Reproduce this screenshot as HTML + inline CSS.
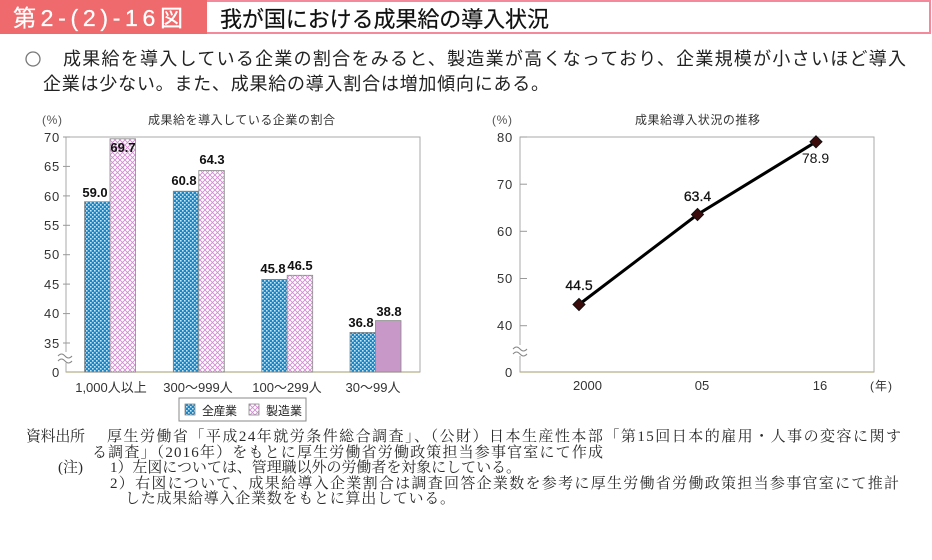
<!DOCTYPE html>
<html><head><meta charset="utf-8"><style>
html,body{margin:0;padding:0;background:#fff;}
svg{display:block;}
.s{font-family:"Liberation Sans","Noto Sans CJK JP",sans-serif;}
.m{font-family:"Liberation Serif","Noto Serif CJK SC",serif;}
</style></head><body>
<svg width="932" height="560" viewBox="0 0 932 560" xmlns="http://www.w3.org/2000/svg">
<defs>
<pattern id="pb" width="4" height="4" patternUnits="userSpaceOnUse"><rect width="4" height="4" fill="#1a86c8"/><rect x="0" y="0" width="1.6" height="1.6" fill="#c4e6f6"/><rect x="2" y="2" width="1.6" height="1.6" fill="#c4e6f6"/></pattern>
<pattern id="pp" width="5" height="5" patternUnits="userSpaceOnUse"><rect width="5" height="5" fill="#fff"/><path d="M0,0 L5,5 M5,0 L0,5" stroke="#d28cd2" stroke-width="0.9"/></pattern>
</defs>
<rect width="932" height="560" fill="#fff"/>
<!-- header -->
<rect x="1" y="1" width="929" height="32" fill="#fff" stroke="#f5899c" stroke-width="2"/>
<rect x="0" y="0" width="207" height="34" fill="#ef6a6c"/>
<text class="s" x="13" y="26" font-size="23" fill="#fff" stroke="#fff" stroke-width="0.3" textLength="170">第2-(2)-16図</text>
<text class="s" x="220" y="27" font-size="22" fill="#111" stroke="#111" stroke-width="0.2" textLength="329">我が国における成果給の導入状況</text>
<!-- summary -->
<circle cx="33" cy="59" r="7" fill="none" stroke="#777" stroke-width="1.3"/>
<text class="s" x="63" y="65" font-size="18" fill="#222" textLength="843">成果給を導入している企業の割合をみると、製造業が高くなっており、企業規模が小さいほど導入</text>
<text class="s" x="43" y="90" font-size="18" fill="#222" textLength="506">企業は少ない。また、成果給の導入割合は増加傾向にある。</text>

<!-- LEFT CHART -->
<text class="s" x="42" y="124" font-size="12" fill="#555" textLength="20">(%)</text>
<text class="s" x="148" y="124" font-size="12" fill="#333" textLength="187">成果給を導入している企業の割合</text>
<rect x="66" y="137" width="354" height="235" fill="none" stroke="#aaa" stroke-width="1"/>
<line x1="66" y1="372" x2="420" y2="372" stroke="#b8b08a" stroke-width="1.2"/>
<g stroke="#999" stroke-width="1">
<line x1="63" y1="137" x2="70" y2="137"/><line x1="63" y1="166.4" x2="70" y2="166.4"/><line x1="63" y1="195.9" x2="70" y2="195.9"/><line x1="63" y1="225.3" x2="70" y2="225.3"/><line x1="63" y1="254.7" x2="70" y2="254.7"/><line x1="63" y1="284.1" x2="70" y2="284.1"/><line x1="63" y1="313.6" x2="70" y2="313.6"/><line x1="63" y1="343" x2="70" y2="343"/>
</g>
<g class="s" font-size="13" fill="#333" text-anchor="end" letter-spacing="0.8">
<text x="60" y="142">70</text><text x="60" y="171">65</text><text x="60" y="201">60</text><text x="60" y="230">55</text><text x="60" y="259">50</text><text x="60" y="289">45</text><text x="60" y="318">40</text><text x="60" y="348">35</text><text x="60" y="377">0</text>
</g>
<!-- bars -->
<g stroke="#8a8a8a" stroke-width="0.8">
<rect x="84.5" y="201.7" width="25.5" height="170.3" fill="url(#pb)"/>
<rect x="110" y="138.8" width="25.5" height="233.2" fill="url(#pp)"/>
<rect x="173.3" y="191.2" width="25.5" height="180.8" fill="url(#pb)"/>
<rect x="198.8" y="170.5" width="25.5" height="201.5" fill="url(#pp)"/>
<rect x="261.7" y="279.4" width="25.5" height="92.6" fill="url(#pb)"/>
<rect x="287.2" y="275.3" width="25.5" height="96.7" fill="url(#pp)"/>
<rect x="350" y="332.4" width="25.5" height="39.6" fill="url(#pb)"/>
<rect x="375.5" y="320.6" width="25.5" height="51.4" fill="#c898c8"/>
</g>
<!-- break left -->
<rect x="58" y="352" width="15" height="11" fill="#fff"/>
<path d="M58,356 q3.5,-4 7,0 t7,0 M58,361 q3.5,-4 7,0 t7,0" fill="none" stroke="#888" stroke-width="1"/>
<g class="s" font-size="13" font-weight="bold" fill="#111" text-anchor="middle">
<text x="95" y="197">59.0</text><text x="123" y="152">69.7</text>
<text x="184" y="185">60.8</text><text x="212" y="164">64.3</text>
<text x="273" y="273">45.8</text><text x="300" y="270">46.5</text>
<text x="361" y="327">36.8</text><text x="389" y="316">38.8</text>
</g>
<g class="s" font-size="13" fill="#333" text-anchor="middle">
<text x="111" y="392">1,000人以上</text><text x="198" y="392">300〜999人</text><text x="287" y="392">100〜299人</text><text x="373" y="392">30〜99人</text>
</g>
<!-- legend -->
<rect x="179" y="398" width="127" height="23" fill="#fff" stroke="#888" stroke-width="1"/>
<rect x="185" y="404" width="10" height="11" fill="url(#pb)" stroke="#888" stroke-width="0.8"/>
<text class="s" x="202" y="415" font-size="12" fill="#222" textLength="35">全産業</text>
<rect x="249" y="404" width="10" height="11" fill="url(#pp)" stroke="#888" stroke-width="0.8"/>
<text class="s" x="266" y="415" font-size="12" fill="#222" textLength="36">製造業</text>

<!-- RIGHT CHART -->
<text class="s" x="492" y="124" font-size="12" fill="#555" textLength="20">(%)</text>
<text class="s" x="635" y="124" font-size="12" fill="#333" textLength="125">成果給導入状況の推移</text>
<rect x="520" y="137" width="354" height="235" fill="none" stroke="#aaa" stroke-width="1"/>
<line x1="520" y1="372" x2="874" y2="372" stroke="#b8b08a" stroke-width="1.2"/>
<g stroke="#999" stroke-width="1">
<line x1="520" y1="137" x2="527" y2="137"/><line x1="520" y1="184.2" x2="527" y2="184.2"/><line x1="520" y1="231.3" x2="527" y2="231.3"/><line x1="520" y1="278.5" x2="527" y2="278.5"/><line x1="520" y1="325.7" x2="527" y2="325.7"/>
</g>
<g class="s" font-size="13" fill="#333" text-anchor="end" letter-spacing="0.8">
<text x="513" y="142">80</text><text x="513" y="189">70</text><text x="513" y="236">60</text><text x="513" y="283">50</text><text x="513" y="330">40</text><text x="513" y="377">0</text>
</g>
<rect x="513" y="345" width="15" height="11" fill="#fff"/>
<path d="M513,349 q3.5,-4 7,0 t7,0 M513,354 q3.5,-4 7,0 t7,0" fill="none" stroke="#888" stroke-width="1"/>
<polyline points="579,304.5 697.5,214.5 816,141.8" fill="none" stroke="#000" stroke-width="3"/>
<g fill="#3c0c0c" stroke="#111" stroke-width="1">
<path d="M579,298.5 L585,304.5 L579,310.5 L573,304.5 Z"/>
<path d="M697.5,208.5 L703.5,214.5 L697.5,220.5 L691.5,214.5 Z"/>
<path d="M816,135.8 L822,141.8 L816,147.8 L810,141.8 Z"/>
</g>
<g class="s" font-size="14" fill="#111" text-anchor="middle">
<text x="579" y="290" stroke="#111" stroke-width="0.3">44.5</text>
<text x="697.5" y="201" stroke="#111" stroke-width="0.3">63.4</text>
<text x="815.5" y="163">78.9</text>
</g>
<g class="s" font-size="13" fill="#333" text-anchor="middle">
<text x="587.5" y="390">2000</text><text x="702" y="390">05</text><text x="820" y="390">16</text>
</g>
<text class="s" x="870" y="390" font-size="12" fill="#333" textLength="22">(年)</text>

<!-- NOTES -->
<g class="m" font-size="15" fill="#2a2a2a">
<text x="26" y="441" textLength="59">資料出所</text>
<text x="107" y="441" textLength="794">厚生労働省「平成24年就労条件総合調査」、（公財）日本生産性本部「第15回日本的雇用・人事の変容に関す</text>
<text x="92" y="457" textLength="511">る調査」（2016年）をもとに厚生労働省労働政策担当参事官室にて作成</text>
<text x="58" y="472" textLength="25">(注)</text>
<text x="110" y="472" textLength="411">1）左図については、管理職以外の労働者を対象にしている。</text>
<text x="110" y="488" textLength="789">2）右図について、成果給導入企業割合は調査回答企業数を参考に厚生労働省労働政策担当参事官室にて推計</text>
<text x="125" y="503" textLength="330">した成果給導入企業数をもとに算出している。</text>
</g>
</svg>
</body></html>
